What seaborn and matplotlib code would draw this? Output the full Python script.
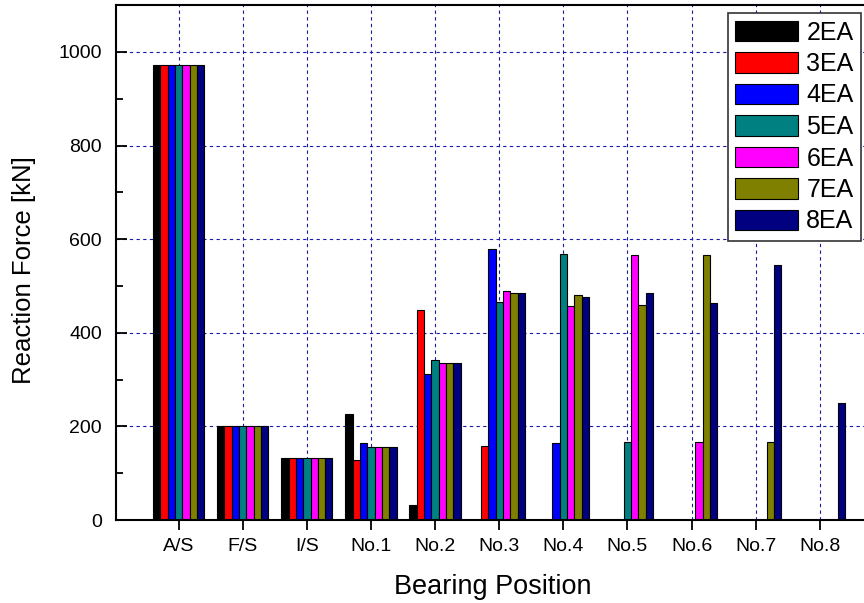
import numpy as np
import pandas as pd
import matplotlib
matplotlib.use("Agg")
import matplotlib.pyplot as plt
from matplotlib.ticker import MultipleLocator
import seaborn as sns

# bearing positions and shaft-count series
positions = ["A/S", "F/S", "I/S", "No.1", "No.2", "No.3", "No.4", "No.5", "No.6", "No.7", "No.8"]
series = ["2EA", "3EA", "4EA", "5EA", "6EA", "7EA", "8EA"]
nan = np.nan

# reaction forces [kN]
f_2ea = [973, 200, 133, 226, 33, nan, nan, nan, nan, nan, nan]
f_3ea = [973, 200, 133, 128, 449, 159, nan, nan, nan, nan, nan]
f_4ea = [973, 200, 133, 164, 312, 578, 164, nan, nan, nan, nan]
f_5ea = [973, 200, 133, 155, 341, 466, 568, 166, nan, nan, nan]
f_6ea = [973, 200, 133, 157, 336, 489, 458, 567, 166, nan, nan]
f_7ea = [973, 200, 133, 157, 336, 485, 481, 459, 567, 166, nan]
f_8ea = [973, 200, 133, 157, 336, 485, 476, 484, 464, 545, 250]

colors = ["#000000", "#ff0000", "#0000ff", "#008080", "#ff00ff", "#808000", "#000080"]

rows = []
for name, vals in zip(series, [f_2ea, f_3ea, f_4ea, f_5ea, f_6ea, f_7ea, f_8ea]):
    for pos, v in zip(positions, vals):
        if not np.isnan(v):
            rows.append((pos, name, v))
df = pd.DataFrame(rows, columns=["position", "case", "force"])

sns.set_theme(style="white")
plt.rcParams["font.family"] = ["Liberation Sans", "DejaVu Sans"]
plt.rcParams["text.color"] = "black"

fig = plt.figure(figsize=(8.64, 6.03), dpi=100)
ax = fig.add_axes([0.134, 0.1376, 0.866, 0.854])

sns.barplot(data=df, x="position", y="force", hue="case",
            order=positions, hue_order=series, palette=colors,
            width=0.8, edgecolor="black", linewidth=0.8,
            errorbar=None, saturation=1, ax=ax)

ax.set_xlim(-0.98, 10.69)
ax.set_ylim(0, 1100)
ax.yaxis.set_major_locator(MultipleLocator(200))
ax.yaxis.set_minor_locator(MultipleLocator(100))
ax.set_axisbelow(True)
ax.grid(True, which="major", color="#1a1aa8", linestyle=(0, (3, 3)), linewidth=0.8)

ax.tick_params(axis="y", which="major", direction="in", length=8, width=1.3,
               labelsize=14, pad=10, left=True, labelcolor="black", color="black")
ax.tick_params(axis="y", which="minor", direction="in", length=5, width=1.3, left=True, color="black")
ax.tick_params(axis="x", which="major", direction="out", length=7, width=1.3,
               labelsize=14, pad=6, bottom=True, labelcolor="black", color="black")

for side in ["left", "bottom", "top"]:
    ax.spines[side].set_color("black")
    ax.spines[side].set_linewidth(1.5)
ax.spines["right"].set_visible(False)

ax.set_xlabel("Bearing Position", fontsize=19.5, color="black")
ax.set_ylabel("Reaction Force [kN]", fontsize=18.5, color="black")
ax.xaxis.set_label_coords(0.504, -0.105)
ax.yaxis.set_label_coords(-0.107, 0.485)

leg = ax.legend(loc="upper right", bbox_to_anchor=(861 / 864, 1 - 13 / 603),
                bbox_transform=fig.transFigure, borderaxespad=0,
                fontsize=18, frameon=True, fancybox=False,
                handlelength=2.5, handleheight=0.9, labelspacing=0.3,
                handletextpad=0.35, borderpad=0.3,
                edgecolor="#333333", facecolor="white", framealpha=1)
leg.get_frame().set_linewidth(1.2)

fig.savefig("out.png", dpi=100)
